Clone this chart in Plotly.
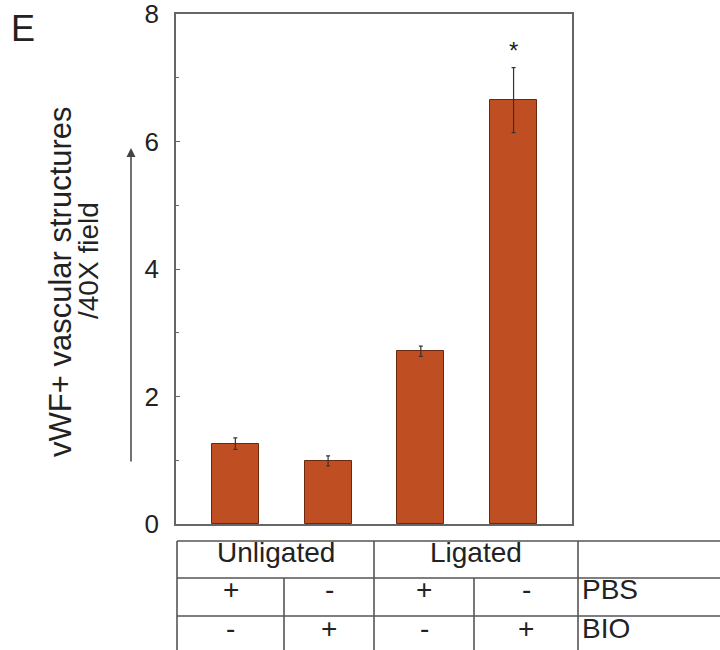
import plotly.graph_objects as go

# ---- data ----
conditions = ["Unligated PBS", "Unligated BIO", "Ligated PBS", "Ligated BIO"]
groups = ["Unligated", "Ligated"]
pbs_row = ["+", "-", "+", "-"]
bio_row = ["-", "+", "-", "+"]
values = [1.26, 0.99, 2.71, 6.65]
errors = [0.09, 0.08, 0.08, 0.51]
significant = [False, False, False, True]
y_ticks = [0, 2, 4, 6, 8]
title_lines = ["vWF+ vascular structures", "/40X field"]

FONT = "Liberation Sans, Arial, Helvetica, sans-serif"
W, H = 720, 650
L, R, T, B = 176, 572, 14, 524  # plot area in (window) pixels


def px(xp):
    return (xp - L) / (R - L)


def py(yp):
    return (B - yp) / (B - T)


x_idx = list(range(len(values)))

fig = go.Figure()
fig.add_trace(go.Bar(
    x=x_idx, y=values, width=0.507,
    marker=dict(color="#BF4F22", line=dict(color="#6a2810", width=1)),
    error_y=dict(type="data", array=errors, visible=True,
                 color="#333333", thickness=1.2, width=2),
    hoverinfo="skip",
))

annotations = []
for i, (v, e, s) in enumerate(zip(values, errors, significant)):
    if s:
        annotations.append(dict(x=i, y=v + e + 0.27, xref="x", yref="y", text="*",
                                showarrow=False, font=dict(size=24, color="#222"),
                                xanchor="center", yanchor="middle"))

# table grid (layout)
col_edges = [177, 284, 374, 474, 578]
row_edges = [541, 578, 616]
table_right = 740
table_bottom = 680
shapes = []
line_style = dict(color="#555555", width=1.6)
for yy in row_edges:
    shapes.append(dict(type="line", xref="paper", yref="paper",
                       x0=px(col_edges[0]), x1=px(table_right), y0=py(yy), y1=py(yy),
                       line=line_style))
for xx in [col_edges[0], col_edges[2], col_edges[4]]:
    shapes.append(dict(type="line", xref="paper", yref="paper",
                       x0=px(xx), x1=px(xx), y0=py(row_edges[0]), y1=py(table_bottom),
                       line=line_style))
for xx in [col_edges[1], col_edges[3]]:
    shapes.append(dict(type="line", xref="paper", yref="paper",
                       x0=px(xx), x1=px(xx), y0=py(row_edges[1]), y1=py(table_bottom),
                       line=line_style))

tfont = dict(size=28, color="#222", family=FONT)
group_spans = [(col_edges[0], col_edges[2]), (col_edges[2], col_edges[4])]
for g, (a, b) in zip(groups, group_spans):
    annotations.append(dict(x=px((a + b) / 2), y=py(552), xref="paper", yref="paper",
                            text=g, showarrow=False, font=tfont,
                            xanchor="center", yanchor="middle"))
for i in range(len(values)):
    cx = px((col_edges[i] + col_edges[i + 1]) / 2)
    annotations.append(dict(x=cx, y=py(589), xref="paper", yref="paper",
                            text=pbs_row[i], showarrow=False, font=tfont,
                            xanchor="center", yanchor="middle"))
    annotations.append(dict(x=cx, y=py(628), xref="paper", yref="paper",
                            text=bio_row[i], showarrow=False, font=tfont,
                            xanchor="center", yanchor="middle"))
annotations.append(dict(x=px(580), y=py(589), xref="paper", yref="paper", text="PBS",
                        showarrow=False, font=tfont, xanchor="left", yanchor="middle"))
annotations.append(dict(x=px(580), y=py(628), xref="paper", yref="paper", text="BIO",
                        showarrow=False, font=tfont, xanchor="left", yanchor="middle"))

# axis title (rotated, two lines) and arrow
annotations.append(dict(x=px(60), y=py(282), xref="paper", yref="paper",
                        text=title_lines[0], textangle=-90, showarrow=False,
                        font=dict(size=31, color="#222", family=FONT),
                        xanchor="center", yanchor="middle"))
annotations.append(dict(x=px(88), y=py(261), xref="paper", yref="paper",
                        text=title_lines[1], textangle=-90, showarrow=False,
                        font=dict(size=28, color="#222", family=FONT),
                        xanchor="center", yanchor="middle"))
annotations.append(dict(x=px(131), y=py(148), xref="paper", yref="paper",
                        ax=0, ay=315, axref="pixel", ayref="pixel", text="",
                        showarrow=True, arrowhead=2, arrowsize=1.2, arrowwidth=1.5,
                        arrowcolor="#444"))
annotations.append(dict(x=px(23), y=py(28), xref="paper", yref="paper", text="E",
                        showarrow=False, font=dict(size=36, color="#222", family=FONT),
                        xanchor="center", yanchor="middle"))

fig.update_layout(
    width=W, height=H,
    margin=dict(l=L, r=W - R, t=T, b=H - B, pad=0, autoexpand=False),
    paper_bgcolor="white", plot_bgcolor="white",
    showlegend=False,
    font=dict(family=FONT, color="#222"),
    shapes=shapes, annotations=annotations,
    bargap=0,
)
fig.update_xaxes(range=[-0.64, 3.63], showticklabels=False, ticks="", showgrid=False,
                 showline=True, linecolor="#666", linewidth=1.5, mirror=True,
                 zeroline=False, automargin=False)
fig.update_yaxes(range=[0, 8], tickvals=y_ticks, ticks="inside", ticklen=4,
                 tickcolor="#666", tickwidth=1,
                 minor=dict(dtick=1, ticks="inside", ticklen=3, tickcolor="#666", showgrid=False),
                 tickfont=dict(size=26, color="#222", family=FONT),
                 showgrid=False, showline=True, linecolor="#666", linewidth=1.5,
                 mirror=True, zeroline=False, ticklabelstandoff=10,
                 automargin=False, ticklabeloverflow="allow")

fig.write_html("out.html", config={"displayModeBar": False},
               post_script="document.body.style.margin='0';document.body.style.overflow='hidden';")
